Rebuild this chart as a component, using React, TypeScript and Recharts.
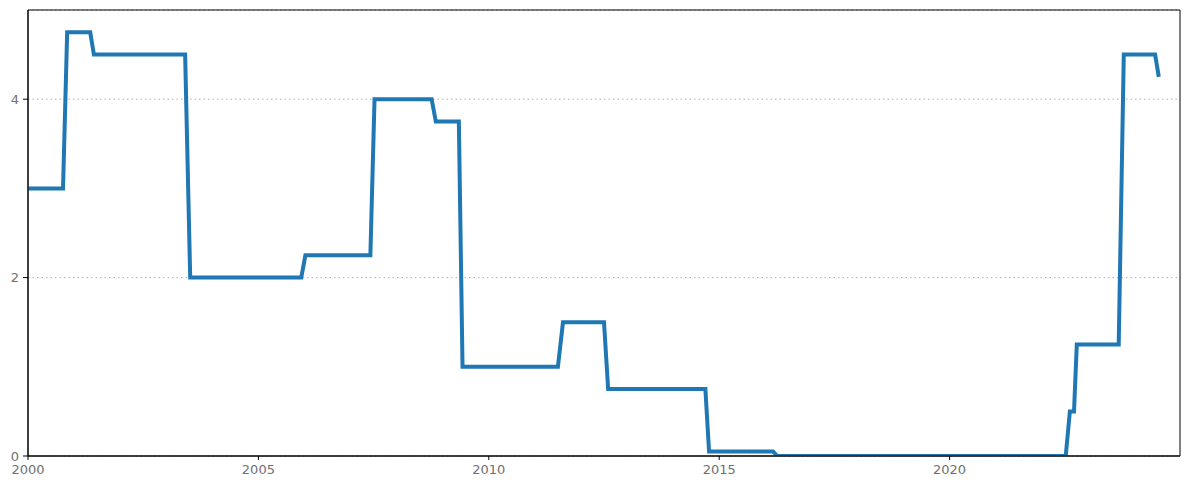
import React from "react";
import { LineChart, Line, XAxis, YAxis, CartesianGrid, ReferenceArea } from "recharts";

const dates = [
  2000.0, 2000.76, 2000.85, 2001.35, 2001.43, 2003.41, 2003.52, 2005.93, 2006.02,
  2007.43, 2007.52, 2008.76, 2008.85, 2009.35, 2009.43, 2011.5, 2011.61, 2012.5,
  2012.59, 2014.7, 2014.78, 2016.17, 2016.26, 2022.52, 2022.61, 2022.7, 2022.76,
  2023.67, 2023.78, 2024.46, 2024.54,
];
const rates = [
  3.0, 3.0, 4.75, 4.75, 4.5, 4.5, 2.0, 2.0, 2.25,
  2.25, 4.0, 4.0, 3.75, 3.75, 1.0, 1.0, 1.5, 1.5,
  0.75, 0.75, 0.05, 0.05, 0.0, 0.0, 0.5, 0.5, 1.25,
  1.25, 4.5, 4.5, 4.25,
];
const xTicks = [2000, 2005, 2010, 2015, 2020];
const yTicks = [0, 2, 4];

const data = dates.map((d, i) => ({ date: d, rate: rates[i] }));

const tickStyle = { fill: "#707070", fontSize: 13, fontFamily: "DejaVu Sans" };

export default function App() {
  return (
    <LineChart
      width={1181}
      height={478}
      data={data}
      margin={{ top: 2, right: 9, bottom: 0, left: 0 }}
    >
      <CartesianGrid
        vertical={false}
        stroke="#b0b0b0"
        strokeDasharray="1.5 3"
        strokeWidth={1}
      />
      <XAxis
        dataKey="date"
        type="number"
        domain={[2000, 2025]}
        ticks={xTicks}
        allowDataOverflow
        tickSize={4}
        tickMargin={5}
        height={30}
        stroke="#000"
        tickLine={{ stroke: "#000" }}
        axisLine={{ stroke: "#000" }}
        tick={tickStyle}
      />
      <YAxis
        type="number"
        domain={[0, 5]}
        ticks={yTicks}
        allowDataOverflow
        tickSize={5}
        tickMargin={4}
        width={20}
        tickLine={{ stroke: "#000" }}
        axisLine={{ stroke: "#000" }}
        tick={tickStyle}
      />
      <ReferenceArea
        x1={2000}
        x2={2025}
        y1={0}
        y2={5}
        fill="none"
        stroke="#000"
        strokeWidth={1}
        fillOpacity={0}
      />
      <Line
        type="linear"
        dataKey="rate"
        stroke="#1f77b4"
        strokeWidth={4}
        dot={false}
        activeDot={false}
        isAnimationActive={false}
      />
    </LineChart>
  );
}
